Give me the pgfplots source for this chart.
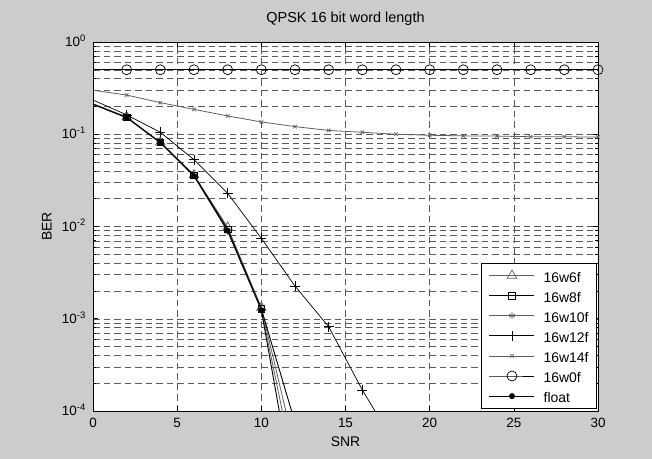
\documentclass[border=0pt]{standalone}
\usepackage{fontspec}
\setmainfont{Liberation Sans}
\usepackage{pgfplots}
\pgfplotsset{compat=1.18}
\definecolor{figbg}{RGB}{204,204,204}
\definecolor{lgray}{RGB}{95,95,95}
\begin{document}
\begin{tikzpicture}
\fill[figbg] (0bp,0bp) rectangle (652bp,459bp);
\useasboundingbox (0bp,0bp) rectangle (652bp,459bp);
\begin{axis}[
  at={(93bp,48bp)}, anchor=south west,
  scale only axis, width=505bp, height=369bp,
  ymode=log, xmin=0, xmax=30, ymin=1e-4, ymax=1,
  axis background/.style={fill=white},
  xtick={0,5,10,15,20,25,30},
  xticklabels={0,5,10,15,20,25,30},
  ytick={1e-4,1e-3,1e-2,1e-1,1},
  yticklabels={10\textsuperscript{-4},10\textsuperscript{-3},10\textsuperscript{-2},10\textsuperscript{-1},10\textsuperscript{0}},
  xtick pos=both, ytick pos=both,
  tick align=inside,
  major tick length=5bp, minor tick length=3bp,
  tick style={black, line width=0.6bp},
  axis line style={black, line width=0.8bp},
  xmajorgrids=true, ymajorgrids=true, yminorgrids=true,
  major grid style={black!65, line width=0.5bp, dash pattern=on 6.5bp off 4bp},
  minor grid style={black!65, line width=0.5bp, dash pattern=on 6.5bp off 4bp},
  every tick label/.append style={font=\fontsize{13.5}{15}\selectfont},
  xticklabel style={anchor=base, inner sep=0pt, yshift=-16bp},
  yticklabel style={anchor=base east, inner sep=0pt, xshift=-7bp, yshift=-4.6bp},
  title={QPSK 16 bit word length},
  title style={at={(0.5,1.03659)}, anchor=base, inner sep=0pt, font=\fontsize{14.5}{17}\selectfont},
  xlabel={SNR},
  xlabel style={at={(0.5,-0.09675)}, anchor=base, inner sep=0pt, font=\fontsize{14}{16}\selectfont},
  ylabel={BER},
  ylabel style={at={(-0.08178,0.5)}, anchor=base, inner sep=0pt, rotate=0, font=\fontsize{14}{16}\selectfont},
  clip mode=individual,
  legend cell align=left,
  legend style={at={(1,0)}, anchor=south east, xshift=-1bp, yshift=2bp,
    draw=black, line width=0.8bp, fill=white,
    font=\fontsize{14}{16}\selectfont,
    inner xsep=8bp, inner ysep=3bp, row sep=1.1bp, column sep=8.7bp,
    nodes={inner sep=0pt, text height=16bp, text depth=3bp}},
  legend image code/.code={\draw[mark repeat=2,mark phase=2] plot coordinates {(0bp,0bp) (22.5bp,0bp) (45bp,0bp)};},
]
% 16w6f
\addplot[lgray, line width=0.8bp, mark=triangle, mark size=5.5bp, mark phase=2, mark options={solid, line width=0.7bp}]
  coordinates {(0,0.213) (2,0.154) (4,0.0820) (6,0.0362) (8,0.0098) (10,0.00132)};
\addlegendentry{16w6f}
\addplot[lgray, line width=0.8bp, forget plot] coordinates {(10,0.00132) (12,3.8e-5)};
% 16w8f
\addplot[black, line width=0.9bp, mark=square, mark size=3.3bp, mark phase=2, mark options={solid, line width=0.7bp}]
  coordinates {(0,0.213) (2,0.153) (4,0.0815) (6,0.0360) (8,0.0093) (10,0.00128)};
\addlegendentry{16w8f}
\addplot[black, line width=0.9bp, forget plot] coordinates {(10,0.00128) (12,7.5e-5)};
% 16w10f
\addplot[lgray, line width=0.8bp, mark=asterisk, mark size=3.5bp, mark phase=2, mark options={solid, line width=0.7bp}]
  coordinates {(0,0.212) (2,0.152) (4,0.0812) (6,0.0355) (8,0.0088) (10,0.00125)};
\addlegendentry{16w10f}
\addplot[lgray, line width=0.8bp, forget plot] coordinates {(10,0.00125) (12,2.17e-5)};
% 16w12f
\addplot[black, line width=0.7bp, mark=+, mark size=5bp, mark phase=2, mark options={solid, line width=0.7bp}]
  coordinates {(0,0.235) (2,0.162) (4,0.105) (6,0.053) (8,0.0229) (10,0.00745) (12,0.00226) (14,0.00082) (16,0.000169)};
\addlegendentry{16w12f}
\addplot[black, line width=0.7bp, forget plot] coordinates {(16,0.000169) (18,4.2e-5)};
% 16w14f
\addplot[lgray, line width=0.8bp, mark=x, mark size=2.5bp, mark phase=2, mark options={solid, line width=0.7bp}]
  coordinates {(0,0.30) (2,0.266) (4,0.22) (6,0.186) (8,0.158) (10,0.136) (12,0.121) (14,0.110) (16,0.105) (18,0.100) (20,0.0975) (22,0.096) (24,0.0955) (26,0.094) (28,0.094) (30,0.093)};
\addlegendentry{16w14f}
% 16w0f
\addplot[black, line width=0.7bp, mark=o, mark size=5bp, mark phase=2, mark options={solid, line width=0.7bp}]
  coordinates {(0,0.5) (2,0.5) (4,0.5) (6,0.5) (8,0.5) (10,0.5) (12,0.5) (14,0.5) (16,0.5) (18,0.5) (20,0.5) (22,0.5) (24,0.5) (26,0.5) (28,0.5) (30,0.5)};
\addlegendentry{16w0f}
% float
\addplot[black, line width=0.9bp, mark=*, mark size=2.5bp, mark phase=2, mark options={solid, fill=black}]
  coordinates {(0,0.211) (2,0.151) (4,0.0810) (6,0.0352) (8,0.0090) (10,0.00124)};
\addlegendentry{float}
\addplot[black, line width=0.9bp, forget plot] coordinates {(10,0.00124) (12,1.09e-5)};
\end{axis}
\end{tikzpicture}
\end{document}
